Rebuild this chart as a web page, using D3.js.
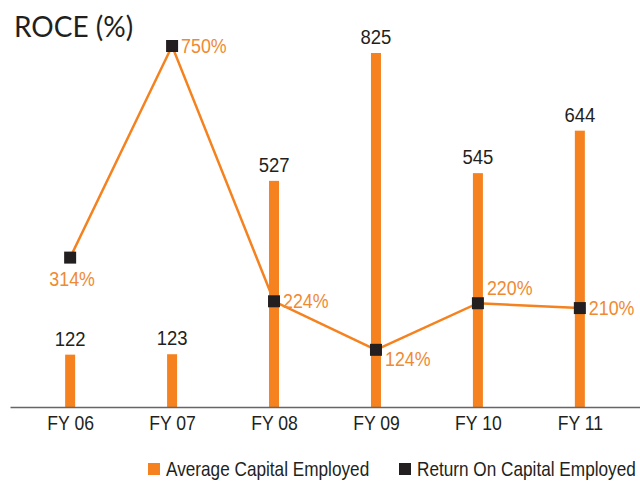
<!DOCTYPE html>
<html>
<head>
<meta charset="utf-8">
<script src="https://cdn.jsdelivr.net/npm/d3@7"></script>
<style>
  body { margin: 0; background: #fff; }
  svg { display: block; font-family: "Liberation Sans", Arial, sans-serif; }
</style>
</head>
<body>
<div id="chart"></div>
<script>
// data
var years = ["FY 06", "FY 07", "FY 08", "FY 09", "FY 10", "FY 11"];
var capitalEmployed = [122, 123, 527, 825, 545, 644];
var roce = [314, 750, 224, 124, 220, 210];
var roceLabelSide = ["below", "right", "right", "belowRight", "aboveRight", "right"];

var orange = "#f5821f", labelOrange = "#f08a32", dark = "#231f20";

var width = 640, height = 481;

// the original uses a narrow font, squeeze text horizontally
function squeeze(sel, f) {
  sel.each(function() {
    var t = d3.select(this);
    var tx = +t.attr("x") || 0, ty = +t.attr("y") || 0;
    t.attr("x", 0).attr("y", 0)
     .attr("transform", "translate(" + tx + "," + ty + ") scale(" + f + ",1)");
  });
}

var svg = d3.select("#chart").append("svg")
    .attr("width", width)
    .attr("height", height);

// scales
var x = d3.scalePoint()
    .domain(years)
    .range([10, 640])
    .padding(0.59);

var yBar = d3.scaleLinear()
    .domain([0, d3.max(capitalEmployed)])
    .range([407, 53]);

var yLine = d3.scaleLinear()
    .domain([0, d3.max(roce)])
    .range([410, 46]);

// title
svg.append("text")
    .attr("x", 14)
    .attr("y", 37)
    .style("font-family", "Lato, 'Open Sans', sans-serif")
    .style("font-size", "28px")
    .style("fill", dark)
    .text("ROCE (%)");

// bars
var barW = 10;
svg.selectAll(".bar")
    .data(capitalEmployed)
  .enter().append("rect")
    .attr("class", "bar")
    .attr("x", function(d, i) { return x(years[i]) - barW / 2; })
    .attr("y", function(d) { return yBar(d); })
    .attr("width", barW)
    .attr("height", function(d) { return yBar(0) - yBar(d); })
    .style("fill", orange);

svg.selectAll(".barlabel")
    .data(capitalEmployed)
  .enter().append("text")
    .attr("class", "barlabel")
    .attr("x", function(d, i) { return x(years[i]); })
    .attr("y", function(d) { return yBar(d) - 9; })
    .attr("text-anchor", "middle")
    .style("font-size", "21px")
    .style("fill", dark)
    .text(function(d) { return d; })
    .call(squeeze, 0.88);

// x axis
var xAxis = svg.append("g")
    .attr("transform", "translate(0,407)")
    .call(d3.axisBottom(x).tickSize(0).tickPadding(9));
xAxis.select(".domain").attr("stroke", "#666").attr("stroke-width", 1.5);
xAxis.selectAll("text")
    .style("font-family", "'Liberation Sans', Arial, sans-serif")
    .style("font-size", "20px")
    .style("fill", dark)
    .attr("transform", "scale(0.88,1)");

// line
var line = d3.line()
    .x(function(d, i) { return x(years[i]); })
    .y(function(d) { return yLine(d); });

svg.append("path")
    .datum(roce)
    .attr("d", line)
    .attr("fill", "none")
    .attr("stroke", orange)
    .attr("stroke-width", 2.5);

var mk = 12;
svg.selectAll(".marker")
    .data(roce)
  .enter().append("rect")
    .attr("class", "marker")
    .attr("x", function(d, i) { return x(years[i]) - mk / 2; })
    .attr("y", function(d) { return yLine(d) - mk / 2; })
    .attr("width", mk)
    .attr("height", mk)
    .style("fill", dark);

svg.selectAll(".roclabel")
    .data(roce)
  .enter().append("text")
    .attr("class", "roclabel")
    .attr("x", function(d, i) {
      var side = roceLabelSide[i];
      return side == "below" ? x(years[i]) + 2 : x(years[i]) + 9;
    })
    .attr("y", function(d, i) {
      var side = roceLabelSide[i], yy = yLine(d);
      if (side == "below") return yy + 28;
      if (side == "belowRight") return yy + 16;
      if (side == "aboveRight") return yy - 8;
      return yy + 7;
    })
    .attr("text-anchor", function(d, i) { return roceLabelSide[i] == "below" ? "middle" : "start"; })
    .style("font-size", "21px")
    .style("fill", labelOrange)
    .text(function(d) { return d + "%"; })
    .call(squeeze, 0.85);

// legend
var legendItems = [
  {name: "Average Capital Employed", color: orange, x: 148},
  {name: "Return On Capital Employed", color: dark, x: 399}
];
var legend = svg.selectAll(".legend")
    .data(legendItems)
  .enter().append("g")
    .attr("class", "legend")
    .attr("transform", function(d) { return "translate(" + d.x + ",463)"; });

legend.append("rect")
    .attr("width", 12)
    .attr("height", 12)
    .style("fill", function(d) { return d.color; });

legend.append("text")
    .attr("x", 18)
    .attr("y", 13)
    .style("font-size", "20px")
    .style("fill", dark)
    .text(function(d) { return d.name; })
    .call(squeeze, 0.86);
</script>
</body>
</html>
